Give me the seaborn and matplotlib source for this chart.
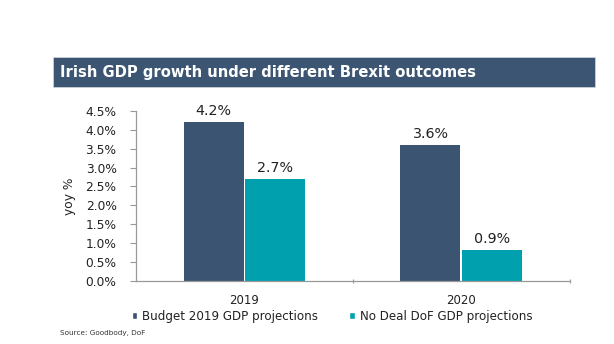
import matplotlib
matplotlib.use("Agg")
import matplotlib.pyplot as plt
from matplotlib.patches import Rectangle
from matplotlib.ticker import FuncFormatter, FixedLocator
import seaborn as sns
import pandas as pd

years = ["2019", "2020"]
series = ["Budget 2019 GDP projections", "No Deal DoF GDP projections"]
budget_vals = [4.2, 3.6]
nodeal_vals = [2.7, 0.82]
budget_labels = ["4.2%", "3.6%"]
nodeal_labels = ["2.7%", "0.9%"]
colors = ["#3A5472", "#00A0AE"]
title = "Irish GDP growth under different Brexit outcomes"
source = "Source: Goodbody, DoF"

df = pd.DataFrame({
    "year": years * 2,
    "series": [series[0]] * 2 + [series[1]] * 2,
    "value": budget_vals + nodeal_vals,
})

sns.set_theme(style="white")
plt.rcParams["font.family"] = ["DejaVu Sans"]

fig = plt.figure(figsize=(6.14, 3.44), dpi=100)
ax = fig.add_axes([0.2215, 0.183, 0.7065, 0.495])

sns.barplot(data=df, x="year", y="value", hue="series", order=years,
            hue_order=series, palette=colors, width=0.57, gap=0.03,
            linewidth=0, saturation=1, ax=ax, legend=False)

labels = [budget_labels, nodeal_labels]
for cont, labs in zip(ax.containers, labels):
    ax.bar_label(cont, labels=labs, padding=3, fontsize=10.3, color="#222222")

ax.set_xlim(-0.5, 1.5)
ax.set_ylim(0, 4.5)
ax.set_yticks([i * 0.5 for i in range(10)])
ax.yaxis.set_major_formatter(FuncFormatter(lambda v, p: f"{v:.1f}%"))
ax.tick_params(axis="y", labelsize=8.8, colors="#222222", length=4,
               width=0.8, color="#999999", left=True, pad=10)
ax.tick_params(axis="x", labelsize=8.5, colors="#222222", length=0, pad=9)
ax.xaxis.set_minor_locator(FixedLocator([0.5, 1.5]))
ax.tick_params(axis="x", which="minor", length=3, direction="inout",
               color="#999999", width=0.8, bottom=True)
ax.set_xlabel("")
ax.set_ylabel("yoy %", fontsize=8.8, color="#222222", labelpad=7)
for s in ["top", "right"]:
    ax.spines[s].set_visible(False)
for s in ["left", "bottom"]:
    ax.spines[s].set_color("#999999")
    ax.spines[s].set_linewidth(0.9)

# title banner
fig.patches.append(Rectangle((0.0863, 0.747), 0.883, 0.087,
                             transform=fig.transFigure, facecolor="#3B5573",
                             edgecolor="#C9D0D8", linewidth=0.6, zorder=0))
fig.text(0.098, 0.790, title, color="white", fontsize=10.6, fontweight="bold",
         va="center", ha="left")

handles = [Rectangle((0, 0), 1, 1, facecolor=c) for c in colors]
fig.legend(handles, series, loc="center", bbox_to_anchor=(0.541, 0.081),
           ncol=2, frameon=False, fontsize=8.6, handlelength=0.45,
           handleheight=0.45, handletextpad=0.45, columnspacing=2.6,
           labelcolor="#222222", borderpad=0)

fig.text(0.098, 0.032, source, fontsize=5.2, color="#333333", ha="left",
         va="center")

fig.savefig("out.png", dpi=100)
